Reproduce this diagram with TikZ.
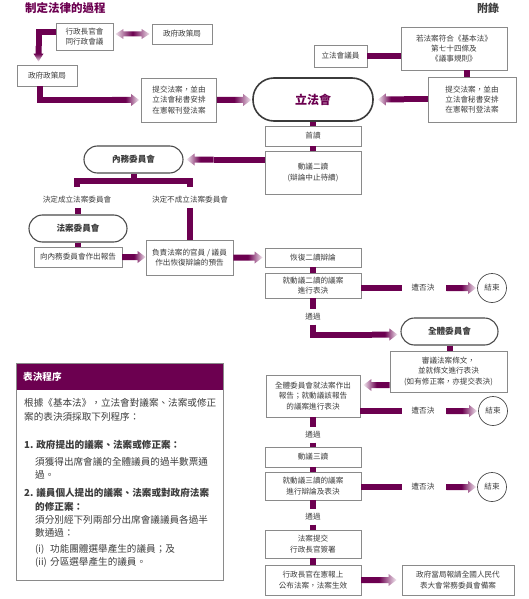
\documentclass[tikz,border=0pt]{standalone}
\usepackage{fontspec}
\setmainfont{Noto Sans CJK TC}
\usetikzlibrary{calc}
\definecolor{pp}{HTML}{6C0050}
\definecolor{bdr}{HTML}{8A8A8A}
\definecolor{txt}{HTML}{3C3C3C}
\definecolor{sdr}{HTML}{4A4A4A}
\newcommand\arwB{3pt}
\newcommand\arwH{6pt}
\newcommand\arwL{8pt}
% right-pointing shaded arrow: #1 start, #2 tip (y taken from #1)
\newcommand\arrR[2]{\shade[left color=pp,right color=pp!8,middle color=pp] let \p1=(#1),\p2=(#2) in
 (\x1,\y1+\arwB) -- (\x2-\arwL,\y1+\arwB) -- (\x2-\arwL,\y1+\arwH) -- (\x2,\y1) -- (\x2-\arwL,\y1-\arwH) -- (\x2-\arwL,\y1-\arwB) -- (\x1,\y1-\arwB) -- cycle;}
% left-pointing
\newcommand\arrL[2]{\shade[left color=pp!8,right color=pp,middle color=pp] let \p1=(#1),\p2=(#2) in
 (\x1,\y1+\arwB) -- (\x2+\arwL,\y1+\arwB) -- (\x2+\arwL,\y1+\arwH) -- (\x2,\y1) -- (\x2+\arwL,\y1-\arwH) -- (\x2+\arwL,\y1-\arwB) -- (\x1,\y1-\arwB) -- cycle;}
% downward
\newcommand\arrD[2]{\shade[top color=pp,bottom color=pp!8,middle color=pp] let \p1=(#1),\p2=(#2) in
 (\x1-\arwB,\y1) -- (\x1-\arwB,\y2+\arwL) -- (\x1-5pt,\y2+\arwL) -- (\x1,\y2) -- (\x1+5pt,\y2+\arwL) -- (\x1+\arwB,\y2+\arwL) -- (\x1+\arwB,\y1) -- cycle;}
% double
\newcommand\arrLR[2]{\shade[left color=pp!12,right color=pp!12,middle color=pp] let \p1=(#1),\p2=(#2) in
 (\x1,\y1) -- (\x1+\arwL,\y1+5pt) -- (\x1+\arwL,\y1+2.5pt) -- (\x2-\arwL,\y1+2.5pt) -- (\x2-\arwL,\y1+5pt) -- (\x2,\y1) -- (\x2-\arwL,\y1-5pt) -- (\x2-\arwL,\y1-2.5pt) -- (\x1+\arwL,\y1-2.5pt) -- (\x1+\arwL,\y1-5pt) -- cycle;}
\tikzset{
 box/.style={draw=bdr, line width=0.75pt, fill=white, align=center, text=txt,
   font=\fontsize{7.6}{10.3}\selectfont, inner sep=0pt},
 stad/.style={draw=sdr, line width=1.1pt, fill=white, rounded corners=13.5pt, text=txt,
   font=\bfseries\fontsize{8.6}{10}\selectfont, inner sep=0pt, minimum height=27},
 legbox/.style={draw=sdr!80!black, line width=1.6pt, fill=white, rounded corners=21pt, text=pp,
   font=\bfseries\fontsize{12}{13}\selectfont, inner sep=0pt},
 endc/.style={circle, draw=sdr, line width=0.7pt, minimum size=29, inner sep=0pt, text=txt,
   font=\fontsize{7.6}{9}\selectfont},
 lab/.style={text=txt, font=\fontsize{7.6}{9}\selectfont, inner xsep=1pt, inner ysep=4pt},
 rej/.style={inner xsep=9pt},
 bar/.style={draw=pp, line width=6pt, line join=miter},
 vt/.style={anchor=west, text=txt, font=\fontsize{9.6}{12}\selectfont, inner sep=0pt},
}
\begin{document}
\begin{tikzpicture}[x=1pt,y=-1pt]
\useasboundingbox (0,0) rectangle (529,599);
% titles
\node[anchor=west, font=\bfseries\fontsize{11.5}{12}\selectfont, text=pp, inner sep=0pt] (title) at (25,8.5) {制定法律的過程};
\node[font=\bfseries\fontsize{11}{12}\selectfont, text=txt, inner sep=0pt] (appx) at (488,8) {附錄};
% nodes
\node[box, minimum width=57, minimum height=27] (exec) at (84.5,36.5) {行政長官會\\同行政會議};
\node[box, minimum width=60, minimum height=20] (bureau1) at (182,34) {政府政策局};
\node[box, minimum width=60, minimum height=21] (bureau2) at (47,75.5) {政府政策局};
\node[box, minimum width=75, minimum height=44] (submitL) at (179,100) {提交法案，並由\\立法會秘書安排\\在憲報刊登法案};
\node[legbox, minimum width=120, minimum height=43] (legco) at (313,99.5) {立法會};
\node[box, minimum width=53, minimum height=22] (member) at (340.5,56) {立法會議員};
\node[box, minimum width=106, minimum height=43] (cond) at (454,48.5) {若法案符合《基本法》\\第七十四條及\\《議事規則》};
\node[box, minimum width=88, minimum height=45] (submitR) at (472,99.5) {提交法案，並由\\立法會秘書安排\\在憲報刊登法案};
\node[box, minimum width=96, minimum height=20] (first) at (313,136) {首讀};
\node[box, minimum width=96, minimum height=43] (second) at (313,172.5) {動議二讀\\(辯論中止待續)};
\node[stad, minimum width=99] (house) at (133.5,159.5) {內務委員會};
\node[lab] (lab1) at (77,200) {決定成立法案委員會};
\node[lab] (lab2) at (190,200) {決定不成立法案委員會};
\node[stad, minimum width=98] (billsc) at (78,228.5) {法案委員會};
\node[box, minimum width=88, minimum height=20] (report) at (78,257) {向內務委員會作出報告};
\node[box, minimum width=87, minimum height=35] (notice) at (189.5,257.5) {負責法案的官員 / 議員\\作出恢復辯論的預告};
\node[box, minimum width=96, minimum height=19] (resume) at (313,257.5) {恢復二讀辯論};
\node[box, minimum width=96, minimum height=25] (vote2) at (313,285.5) {就動議二讀的議案\\進行表決};
\node[endc] (end1) at (492,288) {結束};
\node[lab, rej] (rej1) at (423,288) {遭否決};
\node[lab] (pass1) at (313,317) {通過};
\node[stad, minimum width=97] (cow) at (449.5,331.5) {全體委員會};
\node[box, minimum width=117, minimum height=41] (clauses) at (448.5,371.5) {審議法案條文，\\並就條文進行表決\\(如有修正案，亦提交表決)};
\node[box, minimum width=94, minimum height=42] (cowrep) at (313,396) {全體委員會就法案作出\\報告；就動議該報告\\的議案進行表決};
\node[endc] (end2) at (493,411) {結束};
\node[lab, rej] (rej2) at (423,411) {遭否決};
\node[lab] (pass2) at (313,435) {通過};
\node[box, minimum width=96, minimum height=20] (third) at (313,457) {動議三讀};
\node[box, minimum width=96, minimum height=28] (vote3) at (313,486) {就動議三讀的議案\\進行辯論及表決};
\node[endc] (end3) at (492,487) {結束};
\node[lab, rej] (rej3) at (423,487) {遭否決};
\node[lab] (pass3) at (313,517) {通過};
\node[box, minimum width=96, minimum height=28] (sign) at (313,544) {法案提交\\行政長官簽署};
\node[box, minimum width=96, minimum height=30] (gazette) at (313,580) {行政長官在憲報上\\公布法案，法案生效};
\node[box, minimum width=112, minimum height=30] (npc) at (458,580) {政府當局報請全國人民代\\表大會常務委員會備案};
% voting procedure panel
\node[fill=pp, minimum width=207, minimum height=27, inner sep=0pt, anchor=north west] (vhead) at (16,363) {};
\node[draw=bdr, line width=0.8pt, minimum width=207, minimum height=217, inner sep=0pt, anchor=north west] (vbox) at (16,363) {};
\node[anchor=west, text=white, font=\bfseries\fontsize{9.6}{11}\selectfont, inner sep=0pt] (vtitle) at (23,377) {表決程序};
\node[vt] (v1) at (24,403) {根據《基本法》，立法會對議案、法案或修正};
\node[vt] (v2) at (24,417) {案的表決須採取下列程序：};
\node[vt, font=\bfseries\fontsize{9.6}{12}\selectfont] (v3) at (24,445) {1. 政府提出的議案、法案或修正案：};
\node[vt] (v4) at (35,462) {須獲得出席會議的全體議員的過半數票通};
\node[vt] (v5) at (35,475) {過。};
\node[vt, font=\bfseries\fontsize{9.6}{12}\selectfont] (v6) at (24,493) {2. 議員個人提出的議案、法案或對政府法案};
\node[vt, font=\bfseries\fontsize{9.6}{12}\selectfont] (v7) at (35,507) {的修正案：};
\node[vt] (v8) at (35,520) {須分別經下列兩部分出席會議議員各過半};
\node[vt] (v9) at (35,533) {數通過：};
\node[vt] (v10) at (35,549) {\makebox[15pt][l]{(i)}功能團體選舉產生的議員；及};
\node[vt] (v11) at (35,562) {\makebox[15pt][l]{(ii)}分區選舉產生的議員。};
% helper coordinates
\coordinate (c1) at (38.5,32);
\coordinate (c1b) at (38.5,46);
\coordinate (c2) at (39.5,100);
\coordinate (c2r) at (112,100);
\coordinate (c3) at (313,334.5);
\coordinate (c3r) at (372,334.5);
\coordinate (bL) at (76.5,180.5);
\coordinate (bR) at (190,180.5);
\coordinate (bLd) at (76.5,187);
\coordinate (bRd) at (190,187);
\path (exec.east |- bureau1.west) coordinate (dA);
\path (second.west |- house.east) coordinate (dB);
\path (house.east) ++(30,0) coordinate (dB2);
\path (clauses.west) ++(0,13.5) coordinate (dC);
\path (submitR.north) ++(-5,0) coordinate (dD);
\path (legco.east) ++(30,0) coordinate (dE);
% connectors
\arrLR{[xshift=2pt]dA}{[xshift=-2pt]bureau1.west}
\draw[bar] (exec.west |- c1) -- (c1) -- (c1b);
\arrD{c1b}{[yshift=3pt]bureau2.north}
\draw[bar] (bureau2.south -| c2) -- (c2) -- (c2r);
\arrR{c2r}{[xshift=-2pt]submitL.west}
\arrR{submitL.east}{[xshift=-1pt]legco.west}
\draw[bar] (member.east) -- (cond.west |- member.east);
\draw[bar] (dD |- cond.south) -- (dD);
\draw[bar] (submitR.west) -- (dE);
\arrL{dE}{[xshift=4pt]legco.east}
\draw[bar] (legco.south) -- (first.north);
\draw[bar] (first.south) -- (second.north);
\draw[bar] (dB) -- (dB2);
\arrL{dB2}{[xshift=3pt]house.east}
\draw[bar] (house.south) -- (house.south |- bL);
\draw[bar] (bLd) -- (bL) -- (bR) -- (bRd);
\draw[bar] (lab1.south -| billsc.north) -- (billsc.north);
\draw[bar] (lab2.south) -- (lab2.south |- notice.north);
\draw[bar] (billsc.south) -- (report.north);
\arrR{report.east}{notice.west}
\arrR{notice.east}{[xshift=-2pt]resume.west}
\draw[bar] (resume.south) -- (vote2.north);
\draw[bar] (vote2.east |- rej1.west) -- (rej1.west);
\arrR{[xshift=3pt]rej1.east}{[xshift=-1pt]end1.west}
\draw[bar] (vote2.south) -- (pass1.north);
\draw[bar] (pass1.south) -- (c3) -- (c3r);
\arrR{c3r}{[xshift=-3pt]cow.west}
\draw[bar] (cow.south) -- (cow.south |- clauses.north);
\arrL{dC}{[xshift=3pt]cowrep.east}
\draw[bar] (cowrep.east |- rej2.west) -- (rej2.west);
\arrR{[xshift=3pt]rej2.east}{[xshift=-1pt]end2.west}
\draw[bar] (cowrep.south) -- (pass2.north);
\draw[bar] (pass2.south) -- (third.north);
\draw[bar] (third.south) -- (vote3.north);
\draw[bar] (vote3.east |- rej3.west) -- (rej3.west);
\arrR{[xshift=3pt]rej3.east}{[xshift=-1pt]end3.west}
\draw[bar] (vote3.south) -- (pass3.north);
\draw[bar] (pass3.south) -- (sign.north);
\draw[bar] (sign.south) -- (gazette.north);
\arrR{gazette.east}{[xshift=-5pt]npc.west}
\end{tikzpicture}
\end{document}
